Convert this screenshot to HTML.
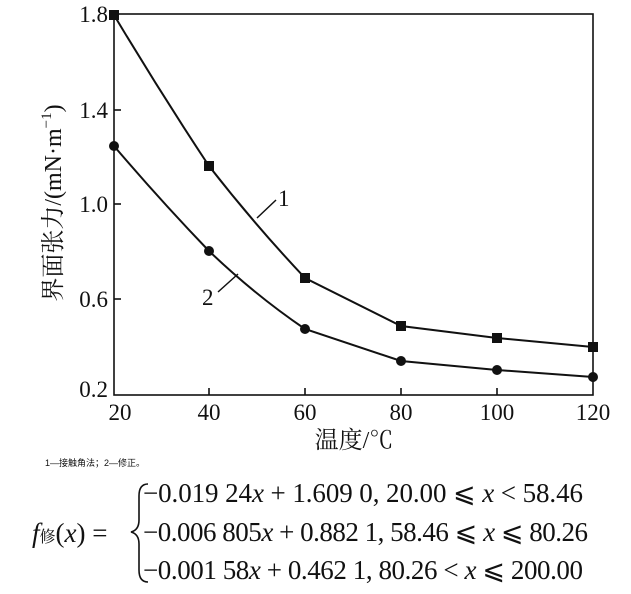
<!DOCTYPE html>
<html><head><meta charset="utf-8"><style>
body{margin:0;background:#fff;width:631px;height:594px;overflow:hidden}
svg{display:block}
</style></head><body>
<svg width="631" height="594" viewBox="0 0 631 594" xmlns="http://www.w3.org/2000/svg">
<g font-family="Liberation Serif, serif" fill="#111">
<rect x="114" y="14" width="479" height="381" fill="none" stroke="#111" stroke-width="1.6"/>
<g stroke="#111" stroke-width="1.6">
<line x1="114" y1="110" x2="121" y2="110"/><line x1="114" y1="204" x2="121" y2="204"/><line x1="114" y1="299" x2="121" y2="299"/>
<line x1="209" y1="395" x2="209" y2="388"/><line x1="305" y1="395" x2="305" y2="388"/><line x1="401" y1="395" x2="401" y2="388"/><line x1="497" y1="395" x2="497" y2="388"/>
</g>
<g font-size="23" text-anchor="end">
<text x="108" y="22">1.8</text><text x="108" y="118">1.4</text><text x="108" y="212">1.0</text><text x="108" y="307">0.6</text><text x="108" y="397">0.2</text>
</g>
<g font-size="23" text-anchor="middle">
<text x="120" y="420">20</text><text x="209" y="420">40</text><text x="305" y="420">60</text><text x="401" y="420">80</text><text x="497" y="420">100</text><text x="593" y="420">120</text>
</g>
<text x="354" y="448" font-size="24" text-anchor="middle" font-family="Liberation Serif, Noto Serif CJK SC, serif">温度/℃</text>
<text transform="translate(61,203) rotate(-90)" font-size="24" text-anchor="middle" font-family="Liberation Serif, Noto Serif CJK SC, serif">界面张力/(mN·m<tspan dy="-10" font-size="15">−1</tspan><tspan dy="10">)</tspan></text>
<g fill="none" stroke="#111" stroke-width="2">
<path d="M114,15 Q160,92 209,166 Q255,225 305,278 L401,326 L497,338 L593,347"/>
<path d="M114,146 Q160,200 209,251 Q255,295 305,329 L401,361 L497,370 L593,377"/>
<line x1="257" y1="218" x2="276" y2="200" stroke-width="1.5"/>
<line x1="218" y1="292" x2="238" y2="274" stroke-width="1.5"/>
</g>
<g>
<rect x="109" y="10" width="10" height="10"/><rect x="204" y="161" width="10" height="10"/><rect x="300" y="273" width="10" height="10"/><rect x="396" y="321" width="10" height="10"/><rect x="492" y="333" width="10" height="10"/><rect x="588" y="342" width="10" height="10"/>
<circle cx="114" cy="146" r="5"/><circle cx="209" cy="251" r="5"/><circle cx="305" cy="329" r="5"/><circle cx="401" cy="361" r="5"/><circle cx="497" cy="370" r="5"/><circle cx="593" cy="377" r="5"/>
</g>
<text x="278" y="206" font-size="23">1</text>
<text x="202" y="305" font-size="23">2</text>
<text x="45" y="466" font-size="9" font-family="Liberation Sans, Noto Sans CJK SC, sans-serif">1—接触角法；2—修正。</text>
<text x="32" y="542" font-size="27"><tspan font-style="italic">f</tspan><tspan font-size="16" font-family="Liberation Serif, Noto Serif CJK SC, serif">修</tspan>(<tspan font-style="italic">x</tspan>) =</text>
<path d="M148,484 Q139,484 139,496 L139,520 Q139,530 131,532 Q139,534 139,544 L139,570 Q139,582 148,582" fill="none" stroke="#111" stroke-width="1.6"/>
<g font-size="27" textLength="440">
<text x="143" y="502" textLength="440" lengthAdjust="spacing">−0.019 24<tspan font-style="italic">x</tspan> + 1.609 0,  20.00 ⩽ <tspan font-style="italic">x</tspan> &lt; 58.46</text>
<text x="143" y="541" textLength="445" lengthAdjust="spacing">−0.006 805<tspan font-style="italic">x</tspan> + 0.882 1,  58.46 ⩽ <tspan font-style="italic">x</tspan> ⩽ 80.26</text>
<text x="143" y="579" textLength="440" lengthAdjust="spacing">−0.001 58<tspan font-style="italic">x</tspan> + 0.462 1,  80.26 &lt; <tspan font-style="italic">x</tspan> ⩽ 200.00</text>
</g>
</g>
</svg>
</body></html>
